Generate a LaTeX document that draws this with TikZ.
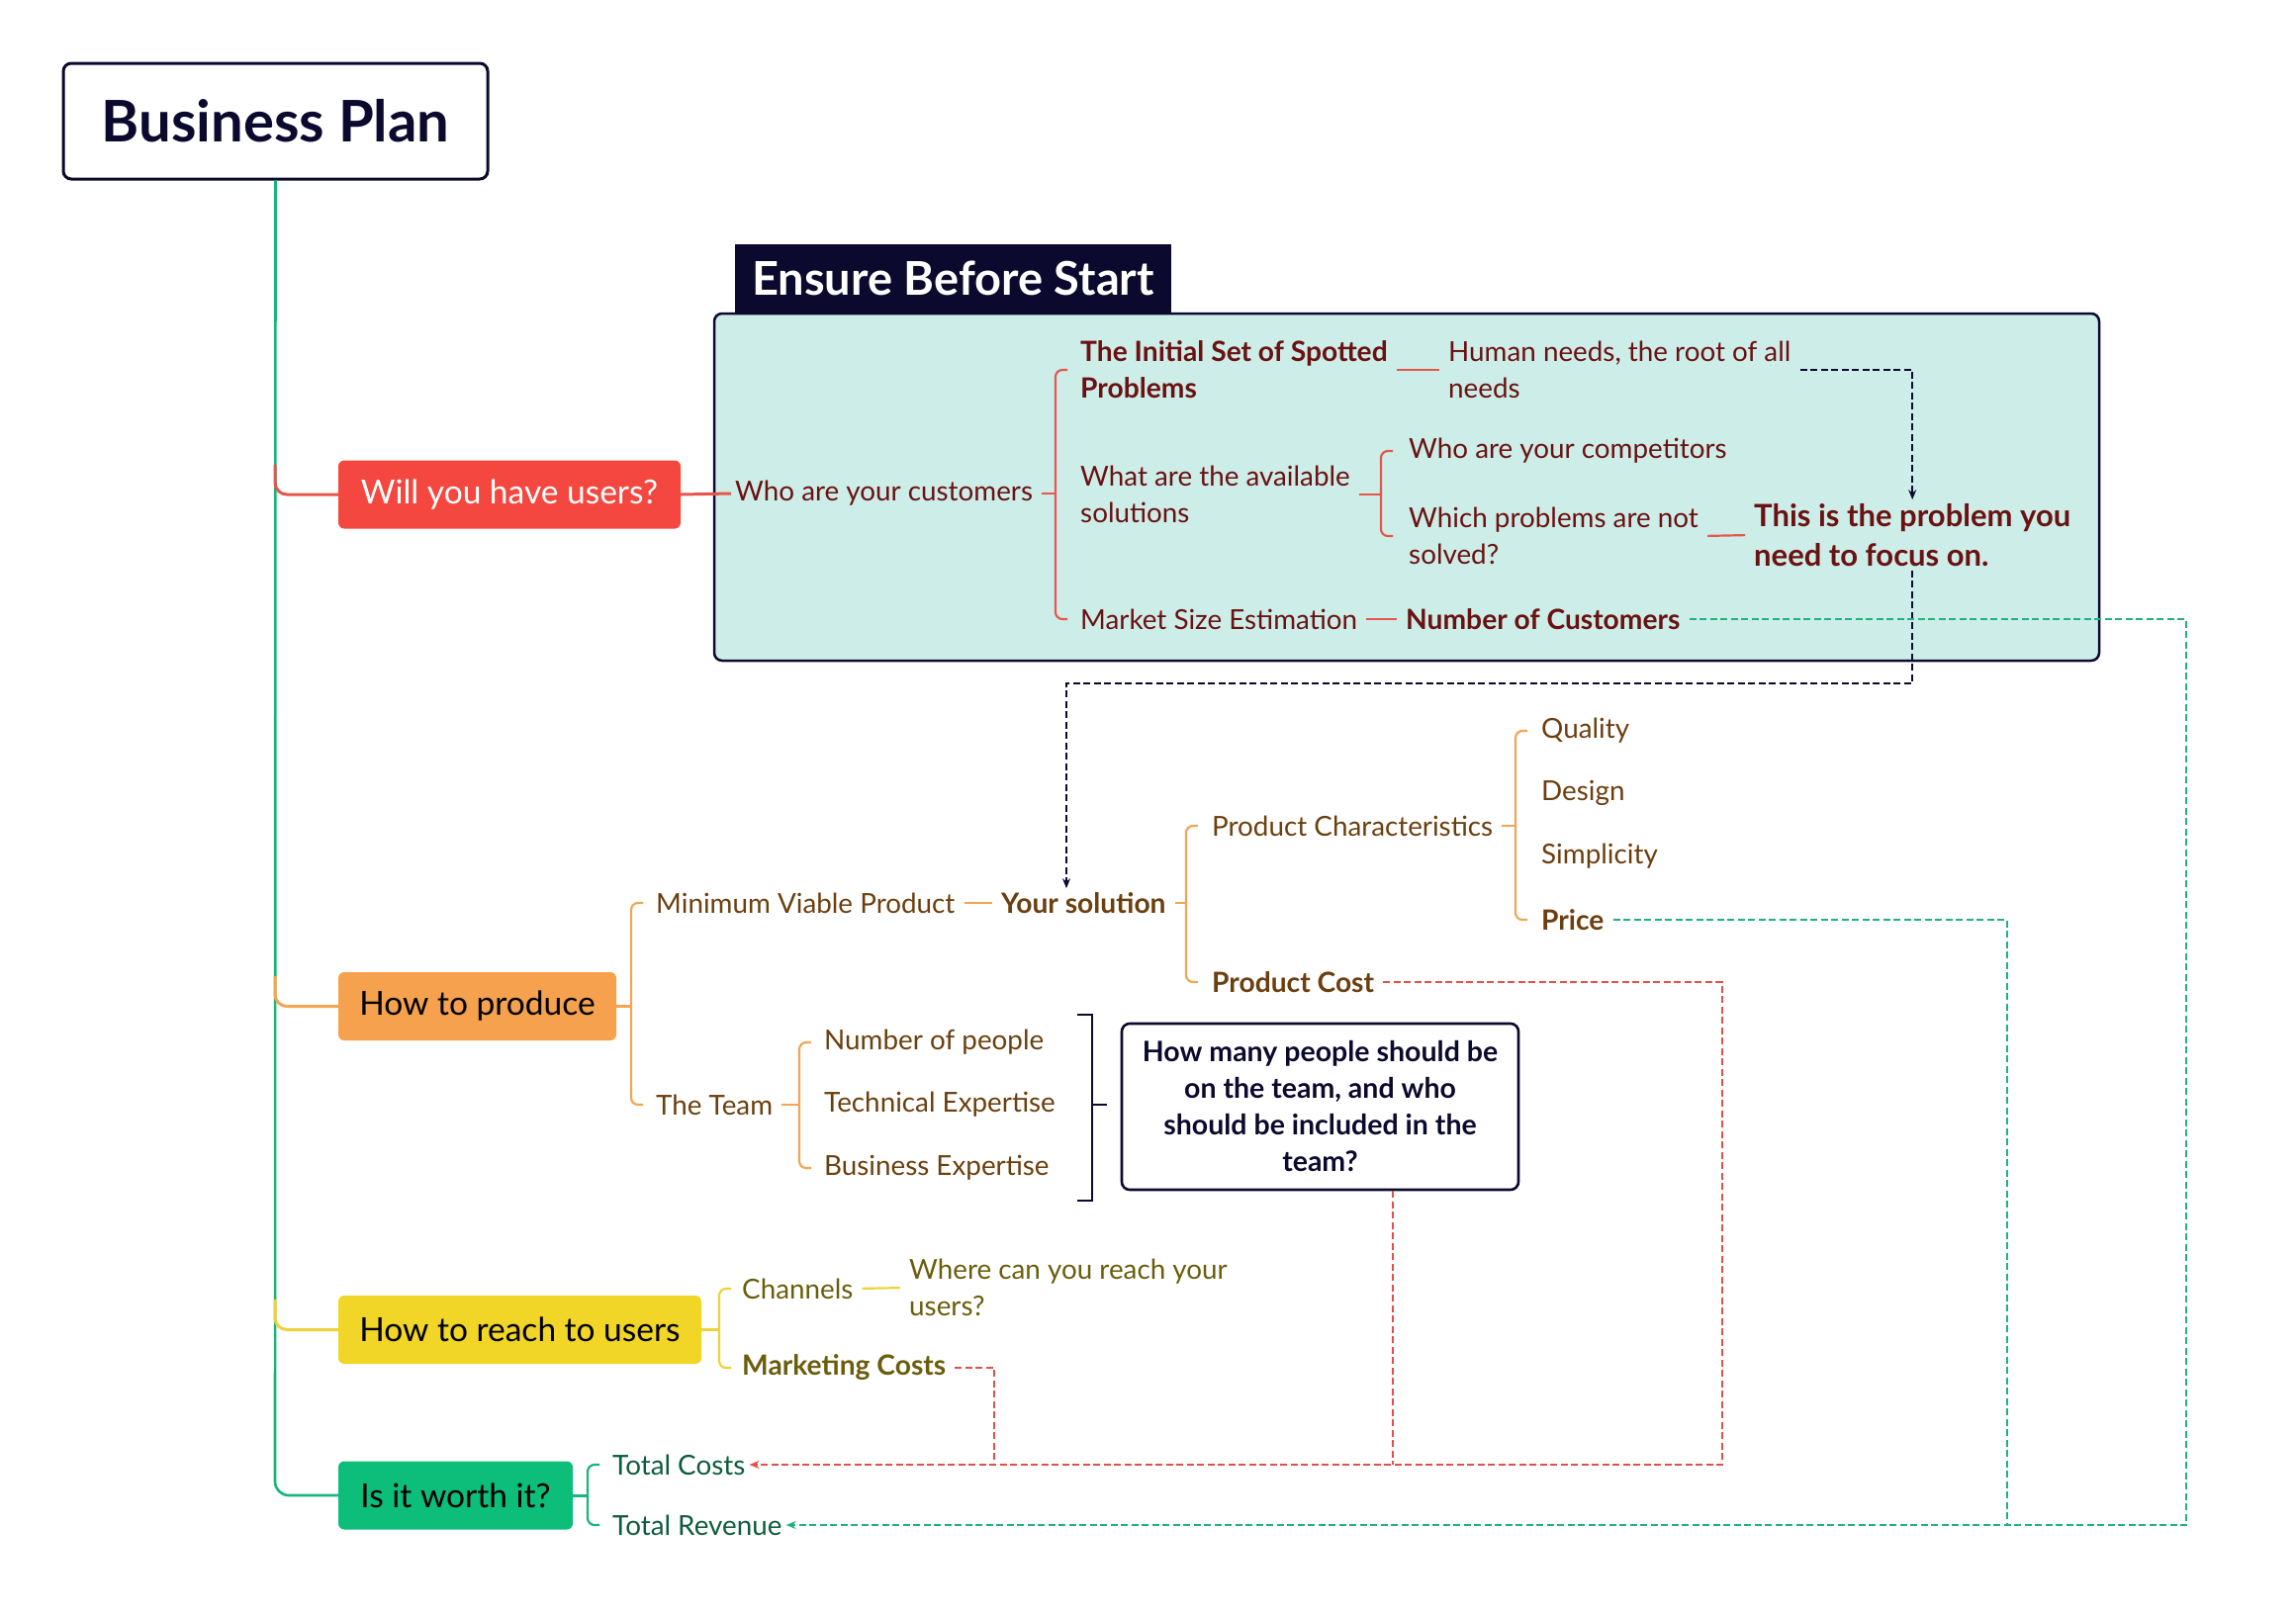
\documentclass[tikz,border=0pt]{standalone}
\usepackage{fontspec}
\setmainfont{Lato}
\usetikzlibrary{arrows.meta,calc}
\definecolor{navy}{HTML}{0B0A2E}
\definecolor{tealbg}{HTML}{CDEDE8}
\definecolor{rbox}{HTML}{F4473F}
\definecolor{rline}{HTML}{E5574D}
\definecolor{rtext}{HTML}{6A1212}
\definecolor{obox}{HTML}{F5A14D}
\definecolor{oline}{HTML}{F2A554}
\definecolor{otext}{HTML}{6B3F0E}
\definecolor{ybox}{HTML}{F1D527}
\definecolor{yline}{HTML}{EDD23A}
\definecolor{ytext}{HTML}{6A5D0C}
\definecolor{gbox}{HTML}{0DBE7B}
\definecolor{gline}{HTML}{17B57A}
\definecolor{gtext}{HTML}{0E5C3E}
\definecolor{reddash}{HTML}{E2504A}
\definecolor{greendash}{HTML}{21B27F}
\newcommand\brkt[4]{\draw[brk,#1] (#2+12,#3) -- (#2,#3) -- (#2,#4) -- (#2+12,#4);}
\begin{document}
\begin{tikzpicture}[x=1pt,y=-1pt,
  lbl/.style={inner sep=4pt, anchor=west, align=left, font=\fontsize{27.8}{37}\selectfont},
  bld/.style={inner sep=4pt, anchor=west, align=left, font=\bfseries\fontsize{28.2}{37}\selectfont},
  branch/.style={rounded corners=6pt, minimum height=69pt, inner sep=0pt, font=\fontsize{33.5}{38}\selectfont},
  conn/.style={line width=3pt},
  brk/.style={line width=2.2pt, rounded corners=7pt},
  gap/.style={shorten <=5pt},
  gaps/.style={shorten <=5pt, shorten >=5pt},
  dsh/.style={line width=2.2pt, dash pattern=on 7pt off 3.5pt},
  tip/.style={-{Stealth[length=10pt,width=8pt]}},
]
\useasboundingbox (0,0) rectangle (2321,1633);

% root
\node[draw=navy, line width=3pt, rounded corners=8pt, minimum width=429pt, minimum height=117pt,
  font=\bfseries\fontsize{58}{64}\selectfont, text=navy] (bp) at (278.5,122.5) {Business Plan};

% container
\node[draw=navy, fill=tealbg, line width=2.5pt, rounded corners=8pt, minimum width=1400pt, minimum height=351pt] (area) at (1422,492.5) {};
\node[fill=navy, text=white, minimum width=441pt, minimum height=69pt, inner sep=0pt,
  font=\bfseries\fontsize{47}{50}\selectfont] (ensure) at (963.5,281) {Ensure Before Start};

% branch boxes
\node[branch, fill=rbox, text=white, minimum width=346pt] (will) at (515,500) {Will you have users?};
\node[branch, fill=obox, text=black, minimum width=281pt] (prod) at (482.5,1017.5) {How to produce};
\node[branch, fill=ybox, text=black, minimum width=367pt] (reach) at (525.5,1344.5) {How to reach to users};
\node[branch, fill=gbox, text=black, minimum width=237pt] (worth) at (460.5,1512) {Is it worth it?};

% trunk
\draw[line width=2.6pt, gline, rounded corners=14pt] (bp.south) -- (278,1512) -- (worth.west);
\draw[conn, rline, rounded corners=12pt] (278,470) -- (278,500) -- (will.west);
\draw[conn, oline, rounded corners=12pt] (278,987) -- (278,1017.5) -- (prod.west);
\draw[conn, yline, rounded corners=12pt] (278,1314) -- (278,1344.5) -- (reach.west);

% ---- red group
\begin{scope}[every node/.append style={text=rtext}]
\node[lbl] (cust) at (739,499) {Who are your customers};
\node[bld] (init) at (1088,374) {The Initial Set of Spotted\\Problems};
\node[lbl] (human) at (1460,374) {Human needs, the root of all\\needs};
\node[lbl] (avail) at (1088,500) {What are the available\\solutions};
\node[lbl] (comp) at (1420,456) {Who are your competitors};
\node[lbl] (which) at (1420,542) {Which problems are not\\solved?};
\node[inner sep=4pt, anchor=west, align=left, font=\bfseries\fontsize{31}{40}\selectfont] (focus) at (1769,541) {This is the problem you\\need to focus on.};
\node[lbl] (market) at (1088,626) {Market Size Estimation};
\node[bld] (ncust) at (1417,626) {Number of Customers};
\end{scope}
\draw[conn, rline] (will.east) -- (cust.west);
\draw[brk, rline, gap] (cust.east) -- (1067,499);
\brkt{rline}{1067}{374}{626}
\draw[brk, rline, gaps] (init.east) -- (human.west);
\draw[brk, rline, gap] (avail.east) -- (1396,500);
\brkt{rline}{1396}{456}{542}
\draw[brk, rline, gaps] (which.east) -- (focus.west);
\draw[brk, rline, gaps] (market.east) -- (ncust.west);

% ---- orange group
\begin{scope}[every node/.append style={text=otext}]
\node[lbl] (mvp) at (659,913) {Minimum Viable Product};
\node[bld] (sol) at (1008,913) {Your solution};
\node[lbl] (pchar) at (1221,835) {Product Characteristics};
\node[lbl] (quality) at (1554,739) {Quality};
\node[lbl] (design) at (1554,802) {Design};
\node[lbl] (simp) at (1554,866) {Simplicity};
\node[bld] (price) at (1554,930) {Price};
\node[bld] (pcost) at (1221,993) {Product Cost};
\node[lbl] (team) at (659,1117) {The Team};
\node[lbl] (npeople) at (829,1054) {Number of people};
\node[lbl] (tech) at (829,1117) {Technical Expertise};
\node[lbl] (bexp) at (829,1181) {Business Expertise};
\end{scope}
\draw[conn, oline] (prod.east) -- (638,1017.5);
\brkt{oline}{638}{913}{1117}
\draw[brk, oline, gaps] (mvp.east) -- (sol.west);
\draw[brk, oline, gap] (sol.east) -- (1199,913);
\brkt{oline}{1199}{835}{993}
\draw[brk, oline, gap] (pchar.east) -- (1532,835);
\brkt{oline}{1532}{739}{930}
\draw[brk, oline, gap] (team.east) -- (808,1117);
\brkt{oline}{808}{1054}{1181}

% team summary bracket and question
\draw[line width=2.6pt, navy] (1089,1026) -- (1104,1026) -- (1104,1214) -- (1089,1214);
\draw[line width=2.6pt, navy] (1104,1117) -- (1119,1117);
\node[draw=navy, line width=2.6pt, rounded corners=8pt, minimum width=401pt, minimum height=168pt,
  align=center, text=navy, font=\bfseries\fontsize{28.5}{37}\selectfont] (q) at (1334.5,1119)
  {How many people should be\\on the team, and who\\should be included in the\\team?};

% ---- yellow group
\begin{scope}[every node/.append style={text=ytext}]
\node[lbl] (chan) at (746,1303) {Channels};
\node[lbl] (where) at (915,1302) {Where can you reach your\\users?};
\node[bld] (mcost) at (746,1383) {Marketing Costs};
\end{scope}
\draw[conn, yline] (reach.east) -- (727,1344.5);
\brkt{yline}{727}{1303}{1383}
\draw[brk, yline, gaps] (chan.east) -- (where.west);

% ---- green group
\begin{scope}[every node/.append style={text=gtext}]
\node[lbl] (tcost) at (615,1481) {Total Costs};
\node[lbl] (rev) at (615,1542) {Total Revenue};
\end{scope}
\draw[conn, gline] (worth.east) -- (594,1512);
\brkt{gline}{594}{1481}{1542}

% ---- dashed relations
\coordinate (nv1) at (1078,691);
\draw[dsh, navy, tip, gap] (human.east) -| (focus.north);
\draw[dsh, navy, tip] (focus.south) |- (nv1) -- (nv1 |- sol.north);

\coordinate (gx1) at (2210,0);
\coordinate (gx2) at (2029,0);
\draw[dsh, greendash, tip, gap] (ncust.east) -| (gx1 |- rev.east) -- (rev.east);
\draw[dsh, greendash, gap] (price.east) -| (gx2 |- rev.east);

\coordinate (rx1) at (1741,0);
\coordinate (rx2) at (1408,0);
\coordinate (rx3) at (1005,0);
\draw[dsh, reddash, tip, gap] (pcost.east) -| (rx1 |- tcost.east) -- (tcost.east);
\draw[dsh, reddash] (q.south -| rx2) -- (rx2 |- tcost.east);
\draw[dsh, reddash, gap] (mcost.east) -| (rx3 |- tcost.east);
\end{tikzpicture}
\end{document}
